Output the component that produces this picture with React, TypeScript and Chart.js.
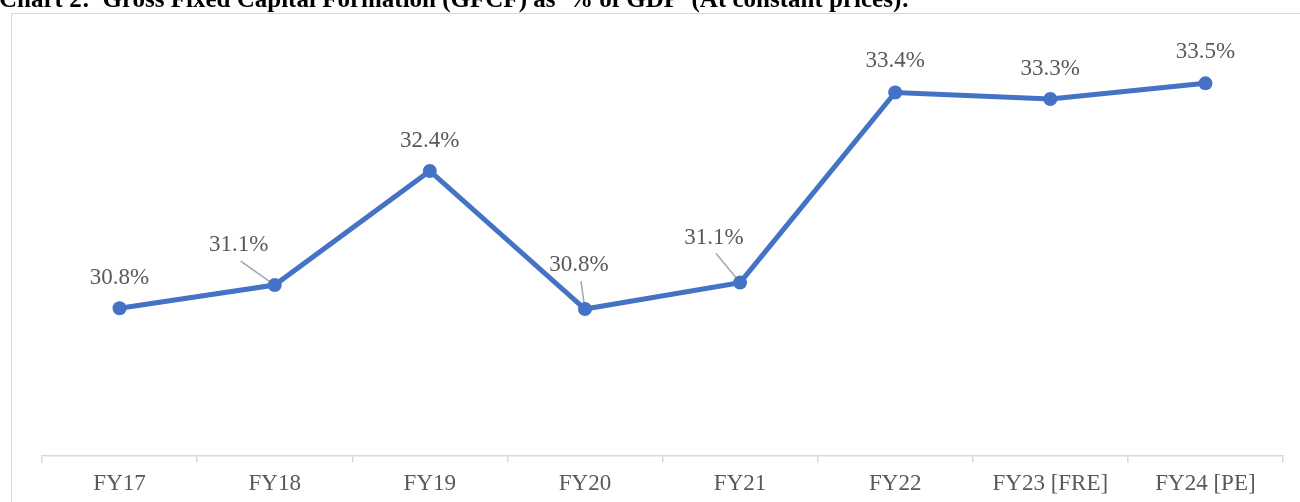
import React, { useEffect, useRef } from "react";
import { Chart, registerables } from "chart.js";

Chart.register(...registerables);

const TITLE = "Chart 2:  Gross Fixed Capital Formation (GFCF) as  % of GDP  (At constant prices):";
const categories = ["FY17", "FY18", "FY19", "FY20", "FY21", "FY22", "FY23 [FRE]", "FY24 [PE]"];
const gfcfShare = [30.78, 31.06, 32.44, 30.77, 31.09, 33.39, 33.31, 33.5];
const yMin = 29;
const yMax = 34;

// label placement relative to each point (pixels) and whether a leader line is drawn
const labelDx = [0, -36, 0, -6, -26, 0, 0, 0];
const labelDy = [-30, -40, -30, -44, -45, -31, -30, -31];
const leader = [false, true, false, true, true, false, false, false];

const LINE_COLOR = "#4472C4";
const TEXT_COLOR = "#595959";
const FONT_FAMILY = "'Liberation Serif', 'Times New Roman', serif";

const titlePlugin = {
  id: "pageTitle",
  beforeDraw(chart: any) {
    const ctx = chart.ctx;
    ctx.save();
    ctx.fillStyle = "#000000";
    ctx.font = `bold 25px ${FONT_FAMILY}`;
    ctx.textAlign = "left";
    ctx.textBaseline = "alphabetic";
    ctx.fillText(TITLE, -1, 7);
    ctx.restore();
  },
};

const labelPlugin = {
  id: "pointLabels",
  beforeDatasetsDraw(chart: any) {
    const ctx = chart.ctx;
    const meta = chart.getDatasetMeta(0);
    ctx.save();
    ctx.strokeStyle = "#a6a6a6";
    ctx.lineWidth = 1.5;
    meta.data.forEach((pt: any, i: number) => {
      if (!leader[i]) return;
      ctx.beginPath();
      ctx.moveTo(pt.x + labelDx[i] + 2, pt.y + labelDy[i] + 16);
      ctx.lineTo(pt.x, pt.y);
      ctx.stroke();
    });
    ctx.restore();
  },
  afterDatasetsDraw(chart: any) {
    const ctx = chart.ctx;
    const meta = chart.getDatasetMeta(0);
    ctx.save();
    ctx.fillStyle = TEXT_COLOR;
    ctx.font = `23px ${FONT_FAMILY}`;
    ctx.textAlign = "center";
    ctx.textBaseline = "middle";
    meta.data.forEach((pt: any, i: number) => {
      ctx.fillText(gfcfShare[i].toFixed(1) + "%", pt.x + labelDx[i], pt.y + labelDy[i]);
    });
    ctx.restore();
  },
};

export default function App() {
  const canvasRef = useRef<HTMLCanvasElement | null>(null);

  useEffect(() => {
    if (!canvasRef.current) return;
    const chart = new Chart(canvasRef.current, {
      type: "line",
      data: {
        labels: categories,
        datasets: [
          {
            data: gfcfShare,
            borderColor: LINE_COLOR,
            backgroundColor: LINE_COLOR,
            borderWidth: 5,
            pointRadius: 7,
            pointHoverRadius: 7,
            pointBackgroundColor: LINE_COLOR,
            pointBorderColor: LINE_COLOR,
            pointBorderWidth: 0,
            tension: 0,
          },
        ],
      },
      options: {
        animation: false,
        responsive: false,
        maintainAspectRatio: false,
        devicePixelRatio: 1,
        layout: { padding: { left: 42, right: 17, top: 42, bottom: 4 } },
        plugins: {
          legend: { display: false },
          tooltip: { enabled: false },
          title: { display: false },
        },
        scales: {
          x: {
            type: "category",
            offset: true,
            grid: {
              offset: true,
              drawOnChartArea: false,
              drawTicks: true,
              tickLength: 7,
              color: "#d9d9d9",
              lineWidth: 1.5,
            },
            border: { display: true, color: "#d9d9d9", width: 1.5 },
            ticks: {
              color: TEXT_COLOR,
              font: { family: FONT_FAMILY, size: 23 },
              padding: 8,
              maxRotation: 0,
              autoSkip: false,
            },
          },
          y: { display: false, min: yMin, max: yMax },
        },
      },
      plugins: [titlePlugin, labelPlugin],
    });
    return () => chart.destroy();
  }, []);

  return (
    <div
      style={{
        position: "absolute",
        left: 0,
        top: 0,
        width: 1300,
        height: 502,
        overflow: "hidden",
        background: "#ffffff",
      }}
    >
      <div
        style={{
          position: "absolute",
          left: 11,
          top: 13,
          width: 1320,
          height: 520,
          border: "1.5px solid #d9d9d9",
          boxSizing: "border-box",
        }}
      />
      <canvas
        ref={canvasRef}
        width={1300}
        height={510}
        style={{ position: "absolute", left: 0, top: 0, width: 1300, height: 510 }}
      />
    </div>
  );
}
